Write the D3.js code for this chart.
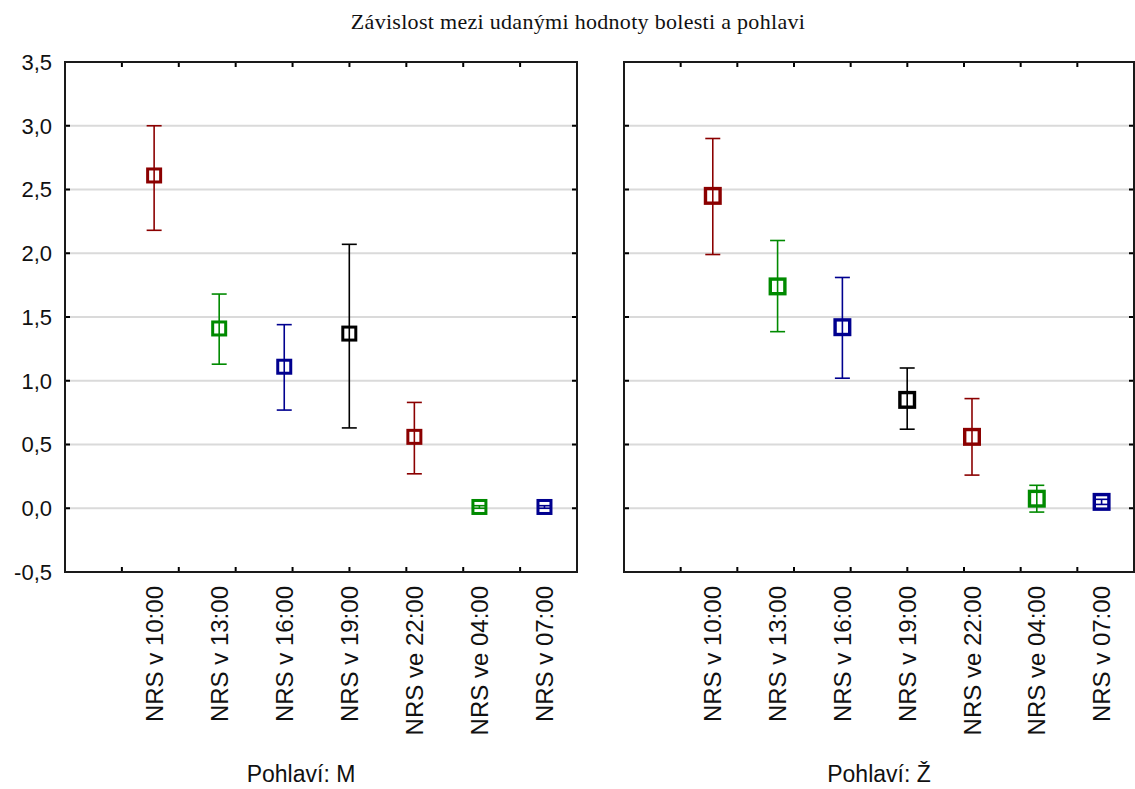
<!DOCTYPE html>
<html>
<head>
<meta charset="utf-8">
<script src="https://cdn.jsdelivr.net/npm/d3@7/dist/d3.min.js"></script>
<style>
  html, body { margin: 0; padding: 0; background: #fff; }
  svg { display: block; }
</style>
</head>
<body>
<svg id="chart" width="1135" height="789"></svg>
<script>
// Pain scores (NRS) at each measurement time, mean with confidence interval, by sex
const categories = ["NRS v 10:00", "NRS v 13:00", "NRS v 16:00", "NRS v 19:00", "NRS ve 22:00", "NRS ve 04:00", "NRS v 07:00"];
const seriesColors = ["#8b0000", "#008a00", "#00008f", "#000000", "#8b0000", "#008a00", "#00008f"];

const meanM = [2.61, 1.41, 1.11, 1.37, 0.56, 0.01, 0.01];
const lowM  = [2.18, 1.13, 0.77, 0.63, 0.27, 0.00, 0.00];
const highM = [3.00, 1.68, 1.44, 2.07, 0.83, 0.02, 0.02];

const meanZ = [2.45, 1.74, 1.42, 0.85, 0.56, 0.075, 0.05];
const lowZ  = [1.99, 1.385, 1.02, 0.62, 0.26, -0.03, 0.03];
const highZ = [2.90, 2.10, 1.81, 1.10, 0.86, 0.18, 0.07];

const yTicks = [3.5, 3.0, 2.5, 2.0, 1.5, 1.0, 0.5, 0.0, -0.5];
const panelTitles = ["Pohlaví: M", "Pohlaví: Ž"];
const chartTitle = "Závislost mezi udanými hodnoty bolesti a pohlavi";

const svg = d3.select("#chart");
const plotTop = 62, plotBottom = 572;

const y = d3.scaleLinear().domain([-0.5, 3.5]).range([plotBottom, plotTop]);
const fmt = v => d3.format(".1f")(v).replace(".", ",").replace("−", "-");

const panels = [
  { x0: 65,  x1: 577,  mean: meanM, low: lowM, high: highM, title: panelTitles[0], titleX: 301, markerSize: 16, markerStroke: 3, showY: true },
  { x0: 624, x1: 1134, mean: meanZ, low: lowZ, high: highZ, title: panelTitles[1], titleX: 879, markerSize: 18, markerStroke: 3.4, showY: false }
];

// title
svg.append("text")
  .attr("x", 578).attr("y", 29)
  .attr("text-anchor", "middle")
  .attr("font-family", "Liberation Serif, Times New Roman, serif")
  .attr("font-size", 22)
  .attr("letter-spacing", 0.3)
  .attr("fill", "#111")
  .text(chartTitle);

panels.forEach(p => {
  const g = svg.append("g");
  // category position scale, categories indexed 0..6
  const x = d3.scaleLinear().domain([-1.37, 6.5]).range([p.x0, p.x1]);
  // evenly spaced frame ticks along the x edges
  const tx = d3.scaleLinear().domain([0, 9]).range([p.x0, p.x1]);

  const innerY = yTicks.filter(v => v > -0.5 && v < 3.5);

  // horizontal grid lines
  g.selectAll("line.grid").data(innerY).join("line")
    .attr("x1", p.x0).attr("x2", p.x1)
    .attr("y1", d => y(d)).attr("y2", d => y(d))
    .attr("stroke", "#dadada").attr("stroke-width", 2);

  // frame ticks (inside)
  g.selectAll("line.ytl").data(innerY).join("line")
    .attr("x1", p.x0).attr("x2", p.x0 + 5)
    .attr("y1", d => y(d)).attr("y2", d => y(d))
    .attr("stroke", "#000").attr("stroke-width", 2);
  g.selectAll("line.ytr").data(innerY).join("line")
    .attr("x1", p.x1 - 5).attr("x2", p.x1)
    .attr("y1", d => y(d)).attr("y2", d => y(d))
    .attr("stroke", "#000").attr("stroke-width", 2);
  const innerX = d3.range(1, 9);
  g.selectAll("line.xtt").data(innerX).join("line")
    .attr("x1", d => tx(d)).attr("x2", d => tx(d))
    .attr("y1", plotTop).attr("y2", plotTop + 5)
    .attr("stroke", "#000").attr("stroke-width", 2);
  g.selectAll("line.xtb").data(innerX).join("line")
    .attr("x1", d => tx(d)).attr("x2", d => tx(d))
    .attr("y1", plotBottom - 5).attr("y2", plotBottom)
    .attr("stroke", "#000").attr("stroke-width", 2);

  // frame
  g.append("rect")
    .attr("x", p.x0).attr("y", plotTop)
    .attr("width", p.x1 - p.x0).attr("height", plotBottom - plotTop)
    .attr("fill", "none").attr("stroke", "#1a1a1a").attr("stroke-width", 2);

  // y tick labels
  if (p.showY) {
    g.selectAll("text.ylab").data(yTicks).join("text")
      .attr("x", 52).attr("y", d => y(d))
      .attr("dy", "0.36em")
      .attr("text-anchor", "end")
      .attr("font-family", "Liberation Sans, Arial, sans-serif")
      .attr("font-size", 22)
      .attr("fill", "#111")
      .text(d => fmt(d));
  }

  // error bars
  const idx = d3.range(categories.length);
  const cap = 7.5;
  const eb = g.selectAll("g.eb").data(idx).join("g")
    .attr("stroke", i => seriesColors[i])
    .attr("stroke-width", 1.6)
    .attr("fill", "none");
  eb.append("line")
    .attr("x1", i => x(i)).attr("x2", i => x(i))
    .attr("y1", i => y(p.low[i])).attr("y2", i => y(p.high[i]));
  eb.append("line")
    .attr("x1", i => x(i) - cap).attr("x2", i => x(i) + cap)
    .attr("y1", i => y(p.high[i])).attr("y2", i => y(p.high[i]));
  eb.append("line")
    .attr("x1", i => x(i) - cap).attr("x2", i => x(i) + cap)
    .attr("y1", i => y(p.low[i])).attr("y2", i => y(p.low[i]));

  // mean markers (hollow squares)
  const s = p.markerSize - p.markerStroke;
  g.selectAll("rect.m").data(idx).join("rect")
    .attr("x", i => x(i) - s / 2).attr("y", i => y(p.mean[i]) - s / 2)
    .attr("width", s).attr("height", s)
    .attr("fill", "none")
    .attr("stroke", i => seriesColors[i])
    .attr("stroke-width", p.markerStroke);

  // category labels, rotated
  g.selectAll("text.xlab").data(idx).join("text")
    .attr("transform", i => `translate(${x(i)},586) rotate(-90)`)
    .attr("dy", "0.36em")
    .attr("text-anchor", "end")
    .attr("font-family", "Liberation Sans, Arial, sans-serif")
    .attr("font-size", 24)
    .attr("fill", "#111")
    .text(i => categories[i]);

  // panel caption
  g.append("text")
    .attr("x", p.titleX).attr("y", 782)
    .attr("text-anchor", "middle")
    .attr("font-family", "Liberation Sans, Arial, sans-serif")
    .attr("font-size", 23)
    .attr("fill", "#111")
    .text(p.title);
});
</script>
</body>
</html>
